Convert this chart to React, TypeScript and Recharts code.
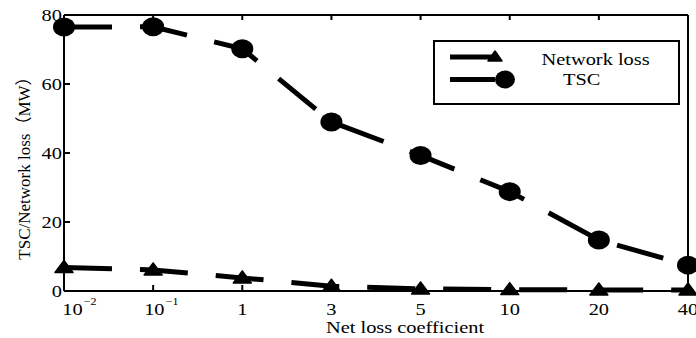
import React from 'react';
import { LineChart, Line, XAxis, YAxis, Legend, Label } from 'recharts';

const categories = ['10^-2', '10^-1', '1', '3', '5', '10', '20', '40'];
const networkLoss = [6.8, 6.1, 3.8, 1.4, 0.6, 0.4, 0.3, 0.3];
const tsc = [76.5, 76.6, 70.2, 49.0, 39.3, 28.8, 14.8, 7.5];
const yTicks = [0, 20, 40, 60, 80];
const seriesNames = ['Network loss', 'TSC'];
const xTitle = 'Net loss coefficient';
const yTitle = 'TSC/Network loss（MW）';

const data = categories.map((c, i) => ({ cat: c, loss: networkLoss[i], tsc: tsc[i] }));

const FONT = '"Liberation Serif", "Times New Roman", "Noto Sans CJK SC", serif';
const SX = 1.2;
const FS = 17;

const BottomTick = (props: any) => {
  const { x, y, payload, index } = props;
  const v = String(payload.value);
  const [base, exp] = v.split('^');
  return (
    <g>
      <line x1={x} x2={x} y1={y} y2={y - 6} stroke="#000" strokeWidth={2} />
      <g transform={`translate(${x},${y + 24}) scale(${SX},1)`}>
        {exp ? (
          <text x={index === 0 ? -1.5 : -7.5} y={0} fontSize={FS} fontFamily={FONT} fill="#000" textAnchor="start">
            {base}
            <tspan fontSize={10} dx={1} dy={-10}>{exp.replace('-', '−')}</tspan>
          </text>
        ) : (
          <text x={0} y={0} fontSize={FS} fontFamily={FONT} fill="#000" textAnchor="middle">
            {base}
          </text>
        )}
      </g>
    </g>
  );
};

const TopTick = (props: any) => {
  const { x, y } = props;
  return <line x1={x} x2={x} y1={y} y2={y + 5} stroke="#000" strokeWidth={2} />;
};

const LeftTick = (props: any) => {
  const { x, y, payload } = props;
  return (
    <g>
      <line x1={x} x2={x + 6} y1={y} y2={y} stroke="#000" strokeWidth={2} />
      <g transform={`translate(${x - 2},${y + 6}) scale(${SX},1)`}>
        <text x={0} y={0} fontSize={FS} fontFamily={FONT} fill="#000" textAnchor="end">
          {payload.value}
        </text>
      </g>
    </g>
  );
};

const RightTick = (props: any) => {
  const { x, y } = props;
  return <line x1={x} x2={x - 6} y1={y} y2={y} stroke="#000" strokeWidth={2} />;
};

const TriDot = (p: any) => {
  const { cx, cy, index } = p;
  if (cx == null || cy == null) return <g key={`t${index}`} />;
  return (
    <polygon
      key={`t${index}`}
      points={`${cx},${cy - 7} ${cx + 9},${cy + 5} ${cx - 9},${cy + 5}`}
      fill="#000"
      stroke="#000"
      strokeWidth={1.5}
      strokeLinejoin="round"
    />
  );
};

const CircleDot = (p: any) => {
  const { cx, cy, index } = p;
  if (cx == null || cy == null) return <g key={`c${index}`} />;
  return <ellipse key={`c${index}`} cx={cx} cy={cy} rx={11} ry={9.5} fill="#000" />;
};

const LegendContent = (props: any) => {
  const items = (props.payload || []) as any[];
  return (
    <svg width={248} height={66} style={{ display: 'block', overflow: 'visible' }}>
      <rect x={1} y={1} width={245} height={63} fill="#fff" stroke="#000" strokeWidth={2} />
      {items.map((it: any, i: number) => {
        const cy = 17 + i * 22.5;
        return (
          <g key={i}>
            <line x1={17} x2={62} y1={cy} y2={cy} stroke="#000" strokeWidth={5} />
            {i === 0 ? (
              <polygon points={`62,${cy - 6} 69,${cy + 4} 55,${cy + 4}`} fill="#000" stroke="#000" strokeWidth={1.5} strokeLinejoin="round" />
            ) : (
              <ellipse cx={72} cy={cy} rx={10} ry={9} fill="#000" />
            )}
            <g transform={`translate(${i === 0 ? 108.5 : 130},${i === 0 ? 25 : 45}) scale(${SX},1)`}>
              <text x={0} y={0} fontSize={FS} fontFamily={FONT} fill="#000">
                {it.value}
              </text>
            </g>
          </g>
        );
      })}
    </svg>
  );
};

export default function App() {
  return (
    <div style={{ position: 'absolute', left: 0, top: 0, width: 696, height: 338, background: '#fff' }}>
      <LineChart width={696} height={338} data={data} margin={{ top: 14, right: 0, bottom: 0, left: 0 }}>
        <XAxis
          dataKey="cat"
          xAxisId={0}
          height={47}
          interval={0}
          tickSize={0}
          tickMargin={0}
          tickLine={false}
          axisLine={{ stroke: '#000', strokeWidth: 2 }}
          tick={BottomTick}
        >
          <Label
            content={(lp: any) => {
              const vb = lp.viewBox || {};
              return (
                <g transform={`translate(${vb.x + vb.width / 2 + 29},${vb.y + 42}) scale(${SX},1)`}>
                  <text x={0} y={0} fontSize={FS} fontFamily={FONT} fill="#000" textAnchor="middle">
                    {xTitle}
                  </text>
                </g>
              );
            }}
          />
        </XAxis>
        <XAxis
          dataKey="cat"
          xAxisId="top"
          orientation="top"
          height={1}
          interval={0}
          tickSize={0}
          tickMargin={0}
          tickLine={false}
          axisLine={{ stroke: '#000', strokeWidth: 2 }}
          tick={TopTick}
        />
        <YAxis
          yAxisId={0}
          type="number"
          domain={[0, 80]}
          ticks={yTicks}
          interval={0}
          width={64}
          tickSize={0}
          tickMargin={0}
          tickLine={false}
          axisLine={{ stroke: '#000', strokeWidth: 2 }}
          tick={LeftTick}
        >
          <Label
            content={(lp: any) => {
              const vb = lp.viewBox || {};
              return (
                <text
                  transform={`translate(30,${vb.y + vb.height / 2 + 11}) rotate(-90)`}
                  x={0}
                  y={0}
                  fontSize={17}
                  fontFamily={FONT}
                  fill="#000"
                  textAnchor="middle"
                >
                  {yTitle}
                </text>
              );
            }}
          />
        </YAxis>
        <YAxis
          yAxisId="right"
          orientation="right"
          type="number"
          domain={[0, 80]}
          ticks={yTicks}
          interval={0}
          width={8}
          tickSize={0}
          tickMargin={0}
          tickLine={false}
          axisLine={{ stroke: '#000', strokeWidth: 2 }}
          tick={RightTick}
        />
        <Legend
          layout="vertical"
          align="center"
          verticalAlign="middle"
          wrapperStyle={{ position: 'absolute', left: 433, top: 40, width: 248, height: 66 }}
          content={LegendContent}
        />
        <Line
          dataKey="loss"
          name={seriesNames[0]}
          stroke="#000"
          strokeWidth={5}
          strokeDasharray="48 28"
          dot={TriDot}
          activeDot={false}
          isAnimationActive={false}
        />
        <Line
          dataKey="tsc"
          name={seriesNames[1]}
          stroke="#000"
          strokeWidth={5}
          strokeDasharray="48 28"
          dot={CircleDot}
          activeDot={false}
          isAnimationActive={false}
        />
      </LineChart>
    </div>
  );
}
